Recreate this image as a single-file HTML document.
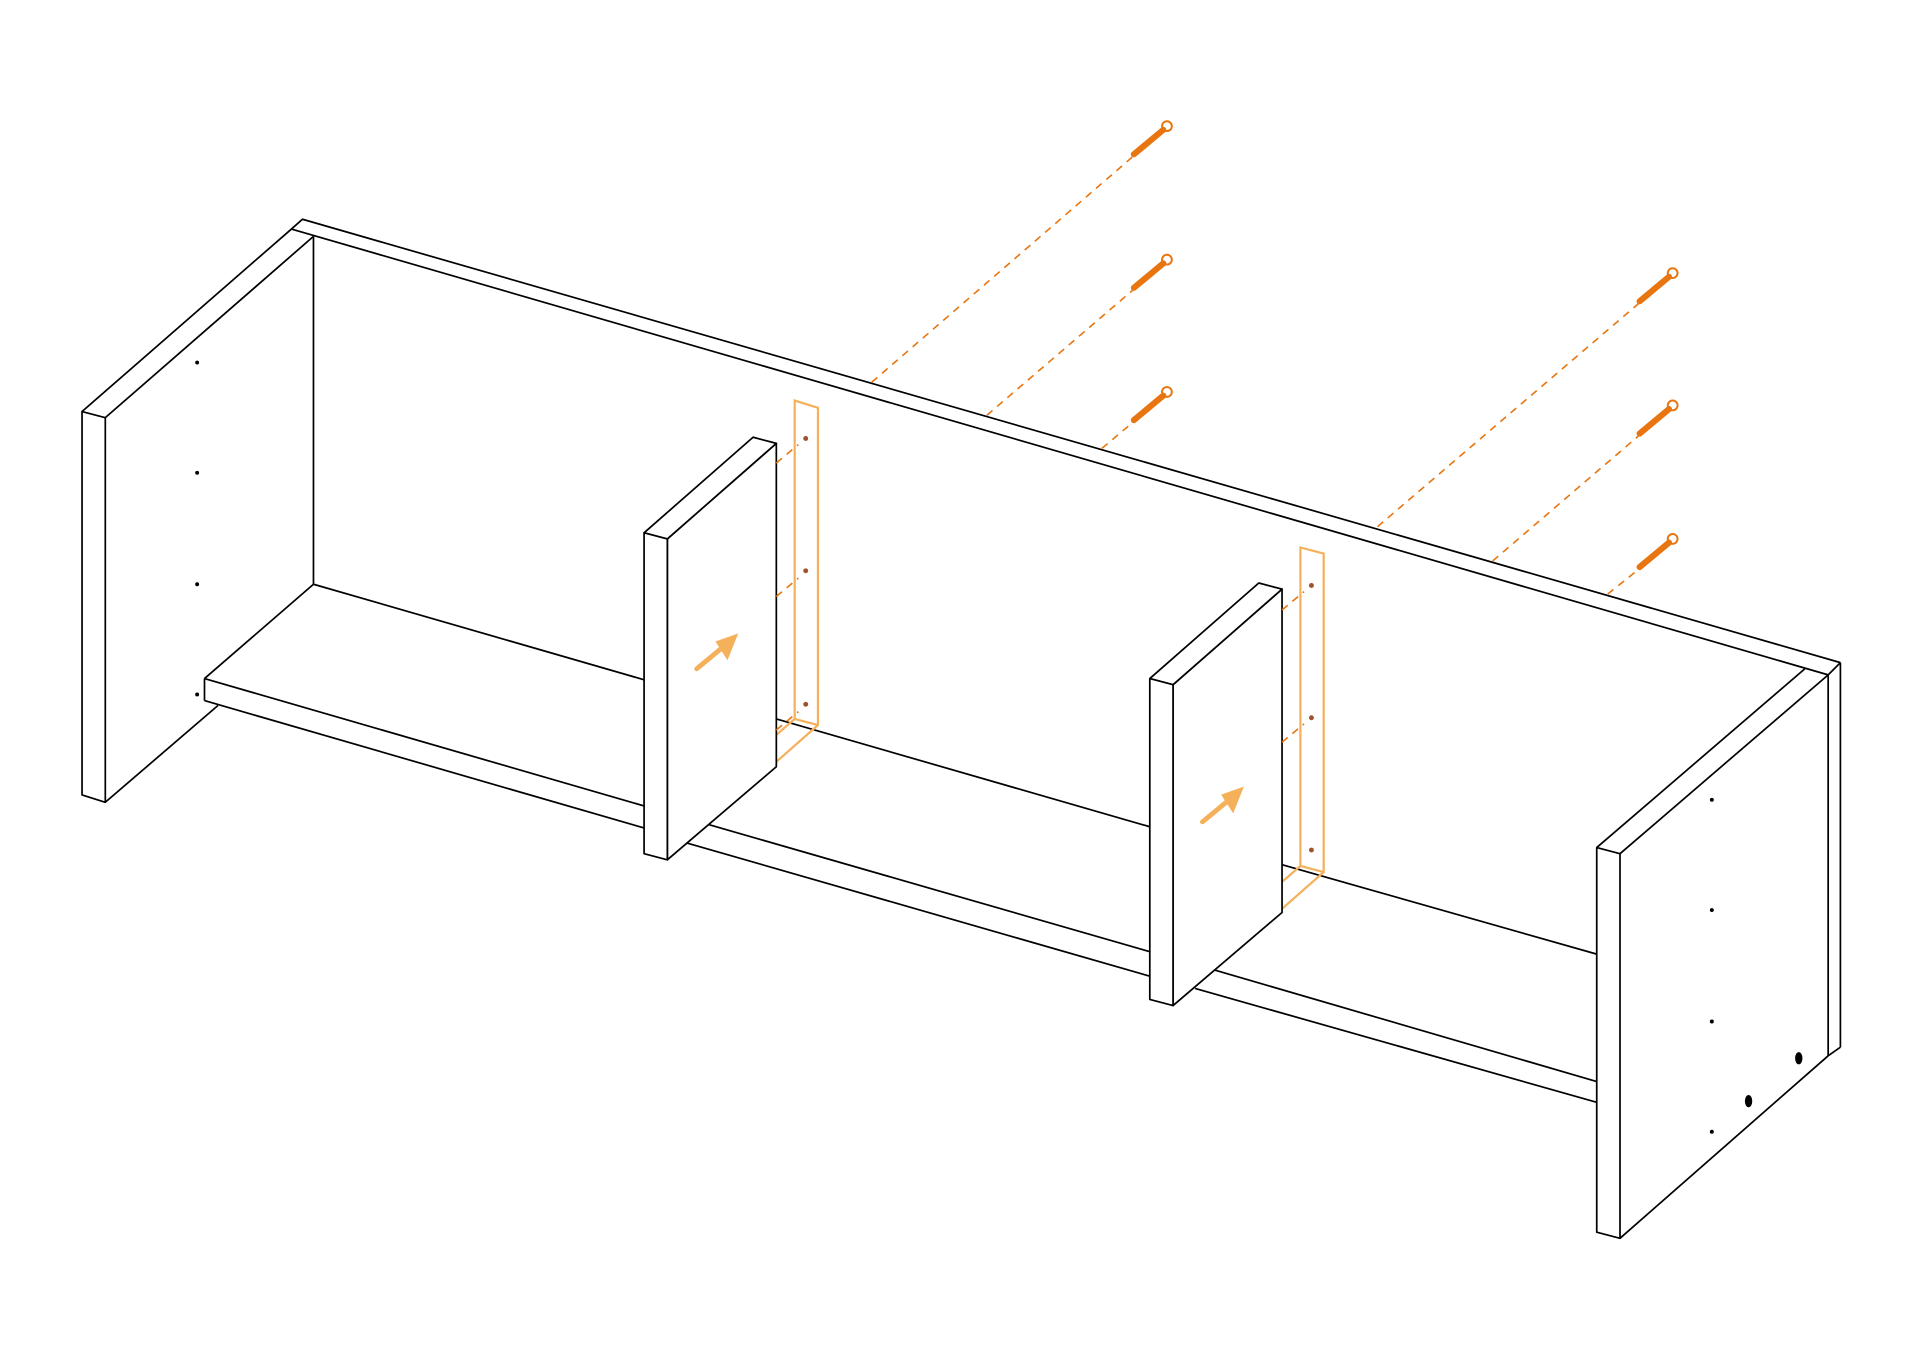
<!DOCTYPE html>
<html><head><meta charset="utf-8"><style>html,body{margin:0;padding:0;background:#fff}svg{display:block}</style></head>
<body>
<svg width="1920" height="1362" viewBox="0 0 1568 1112" preserveAspectRatio="none" xmlns="http://www.w3.org/2000/svg">
<g fill="none" stroke="#000" stroke-width="1.4" stroke-linejoin="round">
<!-- top board -->
<polyline points="67,336 238,187 247,179 1503,541"/>
<line x1="238" y1="187" x2="1493" y2="551"/>
<line x1="86" y1="341" x2="256" y2="193"/>
<line x1="256" y1="193" x2="256" y2="477"/>
<!-- left panel -->
<polygon points="67,336 86,341 86,655 67,649" fill="#fff"/>
<line x1="86" y1="655" x2="178" y2="576"/>
<!-- shelf -->
<line x1="256" y1="477" x2="526" y2="555"/>
<line x1="634" y1="587" x2="939" y2="675"/>
<line x1="1047" y1="706" x2="1304" y2="779"/>
<line x1="167" y1="554" x2="256" y2="477"/>
<line x1="167" y1="554" x2="167" y2="572"/>
<line x1="167" y1="554" x2="526" y2="658"/>
<line x1="167" y1="572" x2="526" y2="676"/>
<line x1="578" y1="673" x2="939" y2="777"/>
<line x1="560" y1="688" x2="939" y2="797"/>
<line x1="992" y1="792" x2="1304" y2="883"/>
<line x1="976" y1="807" x2="1304" y2="900"/>
<!-- right panel -->
<polyline points="1304,692 1474,546"/>
<line x1="1323" y1="697" x2="1493" y2="551"/>
<line x1="1493" y1="551" x2="1493" y2="862"/>
<line x1="1503" y1="541" x2="1503" y2="855"/>
<line x1="1493" y1="551" x2="1503" y2="541"/>
<line x1="1493" y1="862" x2="1503" y2="855"/>
<line x1="1323" y1="1011" x2="1493" y2="862"/>
<polygon points="1304,692 1323,697 1323,1011 1304,1006" fill="#fff"/>
</g>
<!-- orange brackets (behind dividers) -->
<g fill="none" stroke="#f5b05a" stroke-width="1.8">
<polyline points="634,600 649,587 649,327 668,333 668,592 634,622"/>
<line x1="649" y1="587" x2="668" y2="592"/>
<polyline points="1047,720 1062,707 1062,447 1081,452 1081,712 1047,742"/>
<line x1="1062" y1="707" x2="1081" y2="712"/>
</g>
<g fill="#a0522d">
<circle cx="658" cy="358" r="2"/><circle cx="658" cy="466" r="2"/><circle cx="658" cy="575" r="2"/>
<circle cx="1071" cy="478" r="2"/><circle cx="1071" cy="586" r="2"/><circle cx="1071" cy="694" r="2"/>
</g>
<!-- dividers -->
<g fill="#fff" stroke="#000" stroke-width="1.4" stroke-linejoin="round">
<polygon points="545,440 634,362 634,626 545,702"/>
<polygon points="526,435 615,357 634,362 545,440"/>
<polygon points="526,435 545,440 545,702 526,697"/>
<polygon points="958,559 1047,481 1047,745 958,821"/>
<polygon points="939,554 1028,476 1047,481 958,559"/>
<polygon points="939,554 958,559 958,821 939,816"/>
</g>
<!-- holes -->
<g fill="#000">
<circle cx="161" cy="296" r="1.6"/><circle cx="161" cy="386" r="1.6"/><circle cx="161" cy="477" r="1.6"/><circle cx="161" cy="567" r="1.6"/>
<circle cx="1398" cy="653" r="1.6"/><circle cx="1398" cy="743" r="1.6"/><circle cx="1398" cy="834" r="1.6"/><circle cx="1398" cy="924" r="1.6"/>
<ellipse cx="1469" cy="864" rx="3" ry="5"/><ellipse cx="1428" cy="899" rx="3" ry="5"/>
</g>
<!-- arrows -->
<g stroke="#f5b05a" stroke-width="4" stroke-linecap="round" fill="#f5b05a">
<line x1="569" y1="546" x2="592" y2="527"/>
<polygon points="602,518 585,524 594,538" stroke-width="1"/>
<line x1="982" y1="671" x2="1005" y2="652"/>
<polygon points="1015,643 998,649 1007,663" stroke-width="1"/>
</g>
<!-- dashed lines -->
<g stroke="#e8750f" stroke-width="1.3" stroke-dasharray="6,5" fill="none">
<line x1="712" y1="312" x2="925" y2="128"/>
<line x1="806" y1="339" x2="925" y2="237"/>
<line x1="900" y1="366" x2="925" y2="345"/>
<line x1="1125" y1="430" x2="1338" y2="248"/>
<line x1="1219" y1="458" x2="1338" y2="356"/>
<line x1="1313" y1="485" x2="1338" y2="465"/>
<line x1="634" y1="378" x2="652" y2="363"/>
<line x1="634" y1="487" x2="652" y2="472"/>
<line x1="634" y1="596" x2="652" y2="581"/>
<line x1="1047" y1="498" x2="1065" y2="483"/>
<line x1="1047" y1="606" x2="1065" y2="591"/>
</g>
<!-- screws -->
<g id="s" stroke="#e8750f" fill="none">
<line x1="926" y1="126" x2="950" y2="106" stroke-width="5" stroke-linecap="round"/>
<circle cx="953" cy="103" r="4" stroke-width="1.6"/>
</g>
<use href="#s" transform="translate(0,109)"/>
<use href="#s" transform="translate(0,217)"/>
<use href="#s" transform="translate(413,120)"/>
<use href="#s" transform="translate(413,228)"/>
<use href="#s" transform="translate(413,337)"/>
</svg>
</body></html>
